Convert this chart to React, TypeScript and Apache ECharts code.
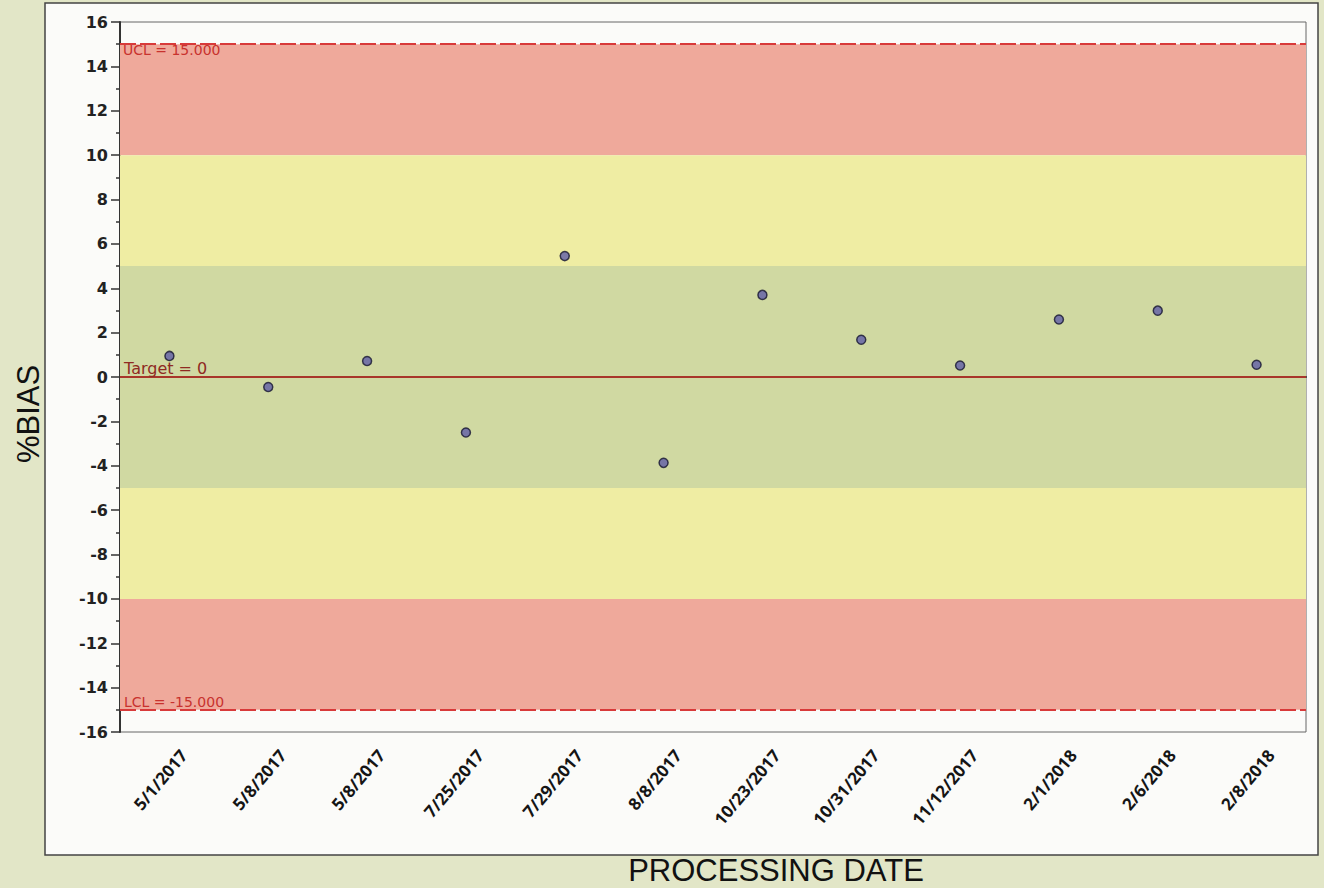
import React, { useEffect, useRef } from "react";
import * as echarts from "echarts";

const categories = [
  "5/1/2017", "5/8/2017", "5/8/2017", "7/25/2017", "7/29/2017", "8/8/2017",
  "10/23/2017", "10/31/2017", "11/12/2017", "2/1/2018", "2/6/2018", "2/8/2018",
];
const biasValues = [0.95, -0.45, 0.72, -2.5, 5.45, -3.87, 3.7, 1.68, 0.52, 2.59, 2.99, 0.55];

const ucl = 15;
const lcl = -15;
const target = 0;
// [from, to, colour]
const bands: [number, number, string][] = [
  [10, 15, "#efa99b"],
  [5, 10, "#efeda3"],
  [-5, 5, "#d0d9a2"],
  [-10, -5, "#efeda3"],
  [-15, -10, "#efa99b"],
];

export default function App() {
  const ref = useRef<HTMLDivElement>(null);
  useEffect(() => {
    if (!ref.current) return;
    const chart = echarts.init(ref.current, null, { renderer: "svg" });
    chart.setOption({
      animation: false,
      backgroundColor: "#e2e6c7",
      graphic: [
        {
          type: "rect",
          z: -10,
          shape: { x: 45, y: 3, width: 1273, height: 852 },
          style: { fill: "#fbfbf9", stroke: "#444", lineWidth: 1.5 },
          silent: true,
        },
        {
          type: "text",
          x: 776,
          y: 870,
          style: {
            text: "PROCESSING DATE",
            font: "31px 'Liberation Sans', Arial, sans-serif",
            fill: "#111",
            align: "center",
            verticalAlign: "middle",
          },
        },
        {
          type: "text",
          x: 28,
          y: 414,
          rotation: Math.PI / 2,
          style: {
            text: "%BIAS",
            font: "31px 'Liberation Sans', Arial, sans-serif",
            fill: "#111",
            align: "center",
            verticalAlign: "middle",
          },
        },
      ],
      grid: {
        left: 120,
        top: 22,
        right: 18,
        bottom: 156,
        show: true,
        borderColor: "#666",
        borderWidth: 1,
        backgroundColor: "transparent",
      },
      xAxis: {
        type: "category",
        data: categories,
        boundaryGap: true,
        axisLine: { lineStyle: { color: "#333", width: 2 } },
        axisTick: { alignWithLabel: true, length: 8, lineStyle: { color: "#222", width: 2 } },
        axisLabel: {
          rotate: 50,
          margin: 8,
          interval: 0,
          color: "#151515",
          fontFamily: "'Open Sans', sans-serif",
          fontWeight: "bold",
          fontSize: 17,
          verticalAlign: "top",
          padding: [10, 0, 0, 0],
        },
        splitLine: { show: false },
      },
      yAxis: {
        type: "value",
        min: -16,
        max: 16,
        interval: 2,
        axisLine: { show: true, lineStyle: { color: "#333", width: 2 } },
        axisTick: { show: true, length: 9, lineStyle: { color: "#333", width: 1.5 } },
        minorTick: { show: true, splitNumber: 2, length: 4, lineStyle: { color: "#333", width: 1.5 } },
        axisLabel: {
          margin: 12,
          color: "#222",
          fontFamily: "'DejaVu Sans', sans-serif",
          fontWeight: "bold",
          fontSize: 16,
        },
        splitLine: { show: false },
      },
      series: [
        {
          type: "scatter",
          data: biasValues,
          symbol: "circle",
          symbolSize: 9,
          itemStyle: { color: "#5f5ca8", borderColor: "#151530", borderWidth: 1.5 },
          z: 5,
          markArea: {
            silent: true,
            z: 1,
            data: bands.map(([a, b, c]) => [
              { yAxis: a, itemStyle: { color: c, opacity: 1 } },
              { yAxis: b },
            ]),
          },
          markLine: {
            silent: true,
            symbol: "none",
            z: 3,
            data: [
              {
                yAxis: ucl,
                lineStyle: { color: "#d83a3a", type: [16, 4], width: 2 },
                label: {
                  formatter: "UCL = 15.000",
                  position: "insideStartBottom",
                  distance: [3, -1],
                  color: "#c8322e",
                  fontSize: 14,
                  fontFamily: "'DejaVu Sans', sans-serif",
                },
              },
              {
                yAxis: lcl,
                lineStyle: { color: "#d83a3a", type: [16, 4], width: 2 },
                label: {
                  formatter: "LCL = -15.000",
                  position: "insideStartTop",
                  distance: [4, 1],
                  color: "#c8322e",
                  fontSize: 14,
                  fontFamily: "'DejaVu Sans', sans-serif",
                },
              },
              {
                yAxis: target,
                lineStyle: { color: "#a8362a", type: "solid", width: 2 },
                label: {
                  formatter: "Target = 0",
                  position: "insideStartTop",
                  distance: [4, 1],
                  color: "#8f2a22",
                  fontSize: 16,
                  fontFamily: "'DejaVu Sans', sans-serif",
                },
              },
            ],
          },
        },
      ],
    });
    return () => chart.dispose();
  }, []);
  return (
    <div
      ref={ref}
      style={{ position: "absolute", left: 0, top: 0, width: 1324, height: 888 }}
    />
  );
}
